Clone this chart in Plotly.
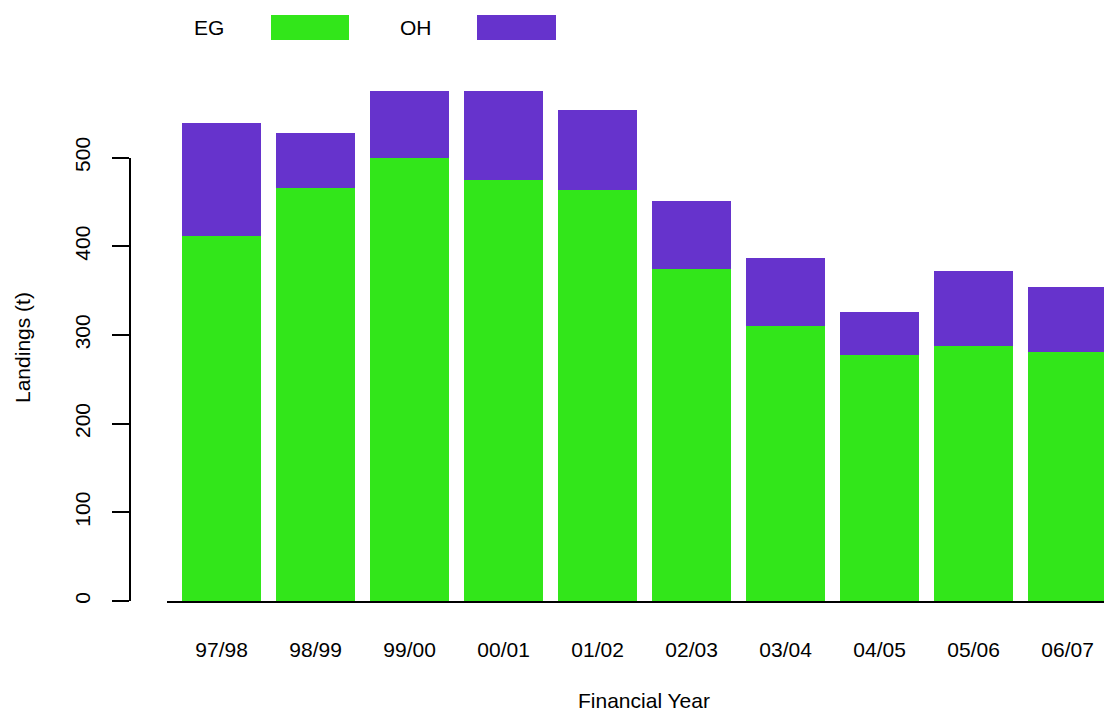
import plotly.graph_objects as go

years = ["97/98", "98/99", "99/00", "00/01", "01/02", "02/03", "03/04", "04/05", "05/06", "06/07"]
eg = [412, 466, 499, 475, 463, 374, 310, 277, 287, 281]
oh = [127, 62, 76, 100, 91, 77, 77, 49, 85, 73]
series_names = ["EG", "OH"]
colors = ["#32E61A", "#6633CC"]
ytick_vals = [0, 100, 200, 300, 400, 500]

W, H = 1104, 713
FONT = "Liberation Sans, Arial, Helvetica, sans-serif"
YMAX = 610

def px(x):
    return x / W

fig = go.Figure()
for name, vals, col in zip(series_names, [eg, oh], colors):
    fig.add_trace(go.Bar(x=years, y=vals, name=name, marker=dict(color=col, line=dict(width=0)),
                         showlegend=False))
# dummy trace to host the visible y axis
fig.add_trace(go.Scatter(x=[years[0]], y=[None], xaxis="x", yaxis="y2", showlegend=False,
                         hoverinfo="skip", mode="markers"))

plot_top, plot_bot = 60, 601
fig.update_layout(
    width=W, height=H,
    margin=dict(l=0, r=0, t=plot_top, b=H - plot_bot),
    barmode="stack", bargap=0.163,
    paper_bgcolor="white", plot_bgcolor="rgba(0,0,0,0)",
    font=dict(family=FONT, size=21, color="black"),
    xaxis=dict(domain=[px(167), 1], range=[-0.581, -0.581 + (W - 167) / 94.0],
               showline=True, linecolor="black", linewidth=2, ticks="", showgrid=False,
               zeroline=False, ticklabelstandoff=29, tickfont=dict(size=21)),
    yaxis=dict(range=[0, YMAX], visible=False, showgrid=False, zeroline=False),
    yaxis2=dict(domain=[0, 500 / YMAX], range=[0, 500], anchor="free", position=px(130),
                showline=True, linecolor="black", linewidth=2, ticks="outside", ticklen=17,
                tickwidth=2, tickcolor="black", tickvals=ytick_vals, tickangle=-90,
                showgrid=False, zeroline=False, ticklabelstandoff=14, tickfont=dict(size=21)),
)

def py(y):
    return (plot_bot - y) / (plot_bot - plot_top)

annotations = [
    dict(text="Financial Year", x=px(644), y=py(700)),
    dict(text="Landings (t)", x=px(22), y=py(348), textangle=-90),
]

# legend: label text followed by colour swatch
legend_text_x = [209, 416]
legend_box_x = [(271, 349), (477, 556)]
shapes = []
for name, col, tx, (bx0, bx1) in zip(series_names, colors, legend_text_x, legend_box_x):
    annotations.append(dict(text=name, x=px(tx), y=py(28)))
    shapes.append(dict(type="rect", xref="paper", yref="paper", x0=px(bx0), x1=px(bx1),
                       y0=py(40), y1=py(15), fillcolor=col, line=dict(width=0)))
for a in annotations:
    a.update(xref="paper", yref="paper", showarrow=False, xanchor="center", yanchor="middle",
             font=dict(size=21))

fig.update_layout(annotations=annotations, shapes=shapes)
fig.write_html("out.html", config={"displayModeBar": False},
               post_script="document.body.style.margin='0';document.body.style.overflow='hidden';")
